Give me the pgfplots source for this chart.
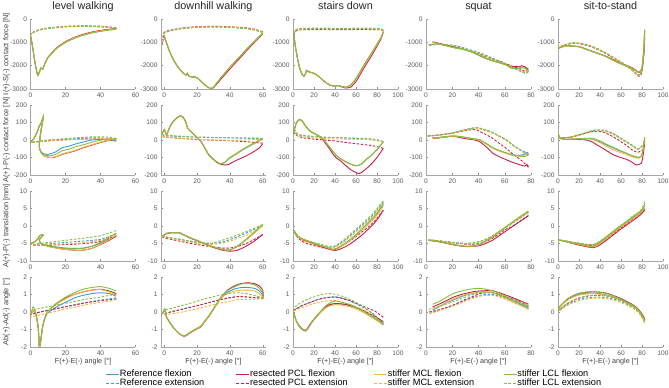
\documentclass[border=0pt]{standalone}
\usepackage{fontspec}
\setmainfont{Liberation Sans}
\usepackage{pgfplots}
\usepackage{pgfplotstable}
\pgfplotsset{compat=1.18}
\definecolor{cB}{HTML}{3A9BDC}
\definecolor{cR}{HTML}{C81E46}
\definecolor{cY}{HTML}{F7B53F}
\definecolor{cG}{HTML}{86BE3E}

% ---------------- row A : I-S contact force ----------------
\pgfplotstableread{
x b r m l
0 -700 -700 -700 -700
1 -1100 -1100 -1100 -1100
2 -1600 -1600 -1600 -1600
3 -2050 -2050 -2050 -2050
4.2 -2420 -2420 -2420 -2420
5.2 -2250 -2250 -2250 -2250
6.0 -2100 -2100 -2100 -2100
7.0 -2150 -2150 -2150 -2150
8 -1950 -1950 -1950 -1950
10 -1650 -1640 -1650 -1660
15 -1250 -1230 -1250 -1260
20 -1000 -970 -990 -1010
25 -820 -790 -810 -830
30 -690 -660 -680 -700
35 -590 -560 -580 -600
40 -520 -490 -510 -530
45 -460 -440 -455 -475
49 -420 -400 -415 -440
}\fAa
\pgfplotstableread{
x b r m l
49 -400 -380 -390 -410
45 -360 -340 -350 -370
40 -330 -310 -320 -340
30 -310 -295 -305 -320
20 -330 -315 -325 -340
10 -400 -385 -395 -410
5 -470 -455 -465 -480
2 -560 -545 -555 -570
0 -660 -650 -655 -670
0 -720 -760 -720 -720
}\eAa
\pgfplotstableread{
x b r m l
0 -700 -700 -700 -700
0.5 -850 -850 -850 -850
3 -1350 -1350 -1350 -1350
6 -1800 -1800 -1800 -1800
9 -2120 -2120 -2120 -2120
12 -2350 -2350 -2350 -2350
13.5 -2400 -2400 -2400 -2400
14 -2330 -2330 -2330 -2330
15 -2450 -2450 -2450 -2450
17 -2480 -2480 -2480 -2480
19 -2490 -2490 -2490 -2490
21 -2580 -2580 -2580 -2580
24 -2780 -2780 -2780 -2780
27 -2940 -2940 -2940 -2940
28.5 -2980 -2980 -2980 -2980
30 -2920 -2950 -2920 -2920
35 -2480 -2540 -2480 -2470
40 -2080 -2140 -2080 -2060
45 -1700 -1760 -1700 -1680
50 -1320 -1370 -1320 -1300
55 -960 -1000 -960 -940
60 -620 -640 -620 -600
}\fAb
\pgfplotstableread{
x b r m l
60 -560 -540 -560 -580
55 -460 -440 -460 -480
50 -400 -380 -400 -420
40 -350 -335 -350 -365
30 -330 -315 -330 -345
20 -345 -330 -345 -360
10 -410 -395 -410 -425
3 -510 -495 -510 -525
0 -580 -570 -580 -600
-1 -900 -1100 -800 -700
}\eAb
\pgfplotstableread{
x b r m l
1 -700 -700 -700 -700
2 -1100 -1100 -1100 -1100
3.5 -1500 -1500 -1500 -1500
5 -1850 -1850 -1850 -1850
7 -2200 -2200 -2200 -2200
9 -2400 -2400 -2400 -2400
10.5 -2450 -2450 -2450 -2450
12 -2330 -2330 -2330 -2330
13 -2200 -2200 -2200 -2200
15 -2260 -2260 -2260 -2260
20 -2330 -2330 -2330 -2330
25 -2480 -2480 -2480 -2480
30 -2680 -2680 -2680 -2680
35 -2830 -2830 -2830 -2830
40 -2880 -2880 -2880 -2880
43 -2850 -2850 -2850 -2850
47 -2900 -2920 -2900 -2900
50 -2920 -2960 -2930 -2920
55 -2830 -2920 -2850 -2830
60 -2550 -2680 -2580 -2550
65 -2180 -2300 -2200 -2170
70 -1800 -1920 -1820 -1790
75 -1450 -1560 -1470 -1440
80 -1080 -1170 -1100 -1070
84 -780 -830 -790 -770
86 -550 -560 -550 -540
}\fAc
\pgfplotstableread{
x b r m l
86 -500 -520 -500 -480
84 -440 -470 -450 -420
80 -420 -460 -430 -400
70 -410 -450 -420 -390
60 -410 -450 -420 -390
50 -420 -455 -430 -400
40 -420 -455 -430 -400
30 -410 -450 -420 -390
20 -410 -450 -420 -390
10 -420 -460 -430 -400
5 -430 -470 -440 -410
2 -500 -540 -510 -480
1 -650 -680 -660 -640
}\eAc
\pgfplotstableread{
x b r m l
5 -1000 -980 -1000 -1010
8 -1030 -1010 -1030 -1040
11 -1080 -1060 -1080 -1090
16 -1150 -1130 -1150 -1160
21 -1220 -1200 -1220 -1230
26 -1270 -1260 -1270 -1280
31 -1340 -1330 -1340 -1350
36 -1430 -1440 -1430 -1440
41 -1560 -1580 -1560 -1570
46 -1680 -1700 -1680 -1690
51 -1790 -1800 -1790 -1810
56 -1860 -1870 -1870 -1880
61 -1950 -1950 -1960 -1980
65 -2080 -2050 -2090 -2110
68 -2100 -2030 -2110 -2120
71 -2100 -2050 -2120 -2130
73 -2060 -2000 -2080 -2090
75 -2050 -2040 -2090 -2100
77 -2150 -2120 -2180 -2200
78 -2200 -2150 -2220 -2240
}\fAd
\pgfplotstableread{
x b r m l
78 -2250 -2180 -2240 -2260
76 -2330 -2250 -2300 -2330
74 -2280 -2200 -2250 -2290
71 -2180 -2120 -2200 -2220
67 -2080 -2050 -2100 -2120
61 -1920 -1920 -1940 -1960
56 -1800 -1820 -1830 -1840
51 -1690 -1720 -1730 -1740
46 -1560 -1620 -1600 -1610
41 -1450 -1520 -1480 -1500
36 -1360 -1420 -1390 -1400
31 -1280 -1330 -1300 -1310
26 -1190 -1240 -1220 -1230
21 -1130 -1170 -1150 -1160
16 -1100 -1120 -1110 -1120
11 -1080 -1090 -1090 -1090
6 -1100 -1090 -1100 -1100
2 -1120 -1110 -1120 -1120
}\eAd
\pgfplotstableread{
x b r m l
0 -1260 -1250 -1260 -1260
4 -1200 -1190 -1200 -1200
8 -1150 -1140 -1150 -1150
14 -1170 -1160 -1170 -1170
20 -1190 -1180 -1190 -1190
27 -1300 -1290 -1300 -1300
33 -1400 -1390 -1400 -1400
40 -1510 -1500 -1510 -1510
46 -1610 -1600 -1610 -1620
52 -1750 -1730 -1750 -1760
59 -1900 -1880 -1900 -1910
65 -2010 -1990 -2010 -2020
71 -2110 -2100 -2120 -2130
74 -2200 -2190 -2210 -2220
76 -2260 -2280 -2270 -2270
78.5 -2250 -2280 -2240 -2230
80 -2100 -2150 -2080 -2050
81 -1800 -1900 -1750 -1700
82 -1300 -1400 -1250 -1200
82.5 -700 -800 -650 -500
}\fAe
\pgfplotstableread{
x b r m l
82.5 -500 -550 -500 -450
82 -1000 -1100 -1000 -950
81 -1700 -1800 -1700 -1650
80 -2150 -2250 -2150 -2100
78.5 -2380 -2440 -2380 -2350
77 -2420 -2450 -2420 -2400
74 -2330 -2350 -2330 -2310
71 -2200 -2210 -2200 -2180
65 -2000 -2010 -2000 -1980
59 -1830 -1840 -1830 -1810
52 -1640 -1650 -1640 -1620
46 -1480 -1490 -1480 -1460
40 -1340 -1350 -1340 -1320
33 -1200 -1210 -1200 -1180
27 -1110 -1120 -1110 -1090
20 -1050 -1060 -1050 -1030
14 -1030 -1040 -1030 -1010
8 -1090 -1100 -1090 -1080
4 -1150 -1160 -1150 -1140
0 -1240 -1250 -1240 -1240
}\eAe

% ---------------- row B : A-P contact force ----------------
\pgfplotstableread{
x b r m l
0 -15 -15 -15 -15
2 10 10 10 10
4 50 50 50 50
5 80 80 80 80
6 95 95 95 95
7.3 130 132 130 135
6.8 100 100 100 100
5.8 40 40 40 40
5 -30 -30 -30 -30
5.5 -60 -60 -60 -60
7 -76 -85 -85 -82
9 -82 -95 -95 -88
11 -80 -100 -100 -90
14 -70 -98 -97 -84
18 -45 -82 -80 -62
22 -35 -72 -70 -52
26 -22 -60 -58 -38
30 -12 -45 -43 -28
34 -2 -32 -30 -16
38 3 -20 -18 -5
42 2 -9 -7 3
46 -2 0 1 5
49 -6 5 6 8
}\fBa
\pgfplotstableread{
x b r m l
49 -6 5 6 8
45 8 8 8 16
40 12 8 8 18
35 12 6 6 18
30 10 5 5 15
25 7 3 3 12
20 4 1 1 8
15 1 -2 -2 4
10 -3 -5 -5 0
5 -8 -9 -9 -6
0 -15 -15 -15 -15
}\eBa
\pgfplotstableread{
x b r m l
-1.5 30 30 30 30
0 60 60 60 60
1.4 30 30 30 30
3.4 76 76 76 76
5.4 105 105 105 105
7.4 124 124 124 124
9.7 138 138 138 138
11.3 132 132 132 132
13 105 105 105 105
14.3 67 67 67 67
16.3 48 48 48 48
19.3 20 20 20 20
22.3 -8 -8 -8 -8
25 -50 -50 -50 -50
27.2 -86 -86 -86 -86
30 -110 -112 -110 -110
32.2 -126 -130 -126 -126
34.2 -137 -138 -137 -137
37 -128 -143 -128 -126
39 -110 -140 -108 -106
44 -80 -116 -78 -76
49 -50 -95 -48 -46
54 -25 -70 -23 -20
58 -5 -45 -3 0
60 5 -20 6 8
}\fBb
\pgfplotstableread{
x b r m l
60 8 -18 5 10
55 9 -14 2 11
50 10 -10 0 12
45 11 -7 -1 13
40 12 -4 -2 13
35 13 -2 -1 14
30 14 -1 0 15
25 15 1 2 16
20 16 3 4 17
15 18 6 7 19
10 20 9 10 22
5 22 13 14 25
1 25 17 18 28
-1 28 18 20 30
}\eBb
\pgfplotstableread{
x b r m l
0.5 40 40 40 40
1.6 67 67 67 67
3 95 95 95 95
4.7 110 110 110 110
6.3 118 118 118 118
8 112 112 112 112
9.4 103 103 103 103
11 88 88 88 88
12.5 76 76 76 76
15 58 58 58 58
17 48 48 48 48
22 32 32 32 32
25 22 20 22 22
28 10 5 10 10
31 -12 -20 -12 -12
34.5 -38 -48 -38 -38
38 -65 -80 -65 -65
40.8 -86 -100 -86 -86
45 -106 -118 -106 -106
50 -124 -145 -124 -124
55 -138 -170 -138 -138
59.6 -147 -185 -147 -147
62.7 -145 -192 -145 -145
66 -133 -182 -133 -133
70 -110 -163 -110 -110
75 -86 -135 -86 -86
80 -55 -100 -55 -55
86 -10 -48 -10 -10
}\fBc
\pgfplotstableread{
x b r m l
86 -10 -48 -10 -8
80 -2 -38 -4 2
75 3 -32 0 6
70 6 -28 2 9
66 8 -25 3 10
60 9 -21 4 11
50 11 -14 5 12
41 13 -6 6 14
34 14 -2 7 15
28 16 1 9 17
22 18 4 11 19
15 22 8 14 22
10 25 12 17 26
6 29 19 22 30
3 38 28 32 42
1.6 57 38 45 60
0.5 40 40 40 40
}\eBc
\pgfplotstableread{
x b r m l
5 13 11 12 14
8 12 10 11 14
11 15 13 14 16
16 20 18 19 20
21 23 21 22 23
26 19 14 18 20
31 13 6 12 14
36 6 2 5 8
41 0 -10 -1 1
46 -22 -40 -24 -20
51 -46 -76 -48 -44
56 -62 -96 -64 -60
61.5 -76 -114 -78 -74
66 -84 -128 -88 -86
71.6 -88 -142 -92 -93
75 -80 -149 -88 -95
77 -70 -140 -80 -90
78 -80 -155 -85 -88
}\fBd
\pgfplotstableread{
x b r m l
78 -80 -155 -85 -88
76 -70 -140 -78 -78
71.6 -55 -110 -58 -57
66 -28 -80 -32 -28
61.5 0 -50 -5 0
56 22 -20 18 22
51 42 8 38 42
46 56 30 52 57
41 67 48 62 68
38.7 70 58 65 71
36 68 60 63 69
31 61 55 57 62
26 52 48 49 53
21 42 40 40 43
16 35 34 34 36
11 29 30 29 29
6 25 26 25 25
1 23 22 23 23
}\eBd
\pgfplotstableread{
x b r m l
0.6 29 29 29 29
1.6 10 10 10 10
4 6 6 6 6
8 4 4 4 4
14 5 4 5 6
20.6 6 2 6 8
27 8 0 7 10
33 5 -12 4 10
37 -5 -28 -8 2
40 -10 -38 -15 -5
46 -28 -60 -35 -24
52 -44 -82 -55 -40
58 -60 -97 -68 -57
65 -76 -110 -82 -75
70 -88 -125 -95 -88
74.6 -98 -143 -103 -97
77 -100 -140 -104 -100
79.4 -92 -133 -96 -92
81 -60 -90 -60 -55
82 -20 -40 -15 -10
82.5 10 0 12 15
}\fBe
\pgfplotstableread{
x b r m l
82.5 10 -5 10 15
82 -15 -40 -15 -10
81 -30 -55 -32 -25
79.4 -40 -62 -42 -38
76 -52 -70 -55 -53
72 -38 -62 -40 -35
68 -22 -45 -24 -18
65 -10 -29 -14 -8
58 15 -2 12 18
52 37 20 33 40
46 50 38 46 53
43 55 45 50 57
39 57 50 52 58
36.5 57 50 52 58
32 52 47 48 53
27 43 40 40 43
20 30 28 28 31
14 19 18 18 20
8 14 13 14 14
1.6 13 13 13 13
0.6 29 29 29 29
}\eBe

% ---------------- row C : A-P translation ----------------
\pgfplotstableread{
x b r m l
0 -5 -5 -5 -5
2 -4.6 -4.6 -4.6 -4.6
4 -3.8 -3.8 -3.8 -3.8
5.2 -2.8 -2.8 -2.8 -2.8
6.5 -2.5 -2.5 -2.5 -2.5
7.3 -2.6 -2.6 -2.6 -2.6
6.5 -3.0 -3.0 -3.0 -3.0
5 -4.0 -4.0 -4.0 -4.0
6 -5.0 -5.0 -5.0 -5.0
10 -5.6 -5.8 -5.8 -5.7
15 -6.0 -6.3 -6.3 -6.1
20 -6.3 -6.7 -6.7 -6.4
25 -6.4 -6.9 -6.9 -6.5
30 -6.3 -6.9 -6.9 -6.4
35 -5.8 -6.4 -6.4 -5.8
40 -4.9 -5.3 -5.2 -4.6
45 -3.8 -4.1 -3.9 -3.2
49 -3.0 -2.8 -2.6 -2.0
}\fCa
\pgfplotstableread{
x b r m l
49 -2.2 -2.6 -2.4 -1.3
45 -3.0 -3.5 -3.2 -2.0
40 -3.8 -4.4 -4.1 -2.8
35 -4.1 -4.8 -4.5 -3.2
30 -4.3 -5.0 -4.8 -3.5
25 -4.5 -5.2 -5.0 -3.8
20 -4.7 -5.3 -5.1 -4.1
15 -4.9 -5.4 -5.2 -4.4
10 -5.1 -5.5 -5.3 -4.7
5 -5.2 -5.5 -5.4 -5.0
2 -5.3 -5.5 -5.4 -5.2
0 -5.0 -5.0 -5.0 -5.0
}\eCa
\pgfplotstableread{
x b r m l
-1.2 -2.9 -3.0 -2.9 -2.9
1.4 -2.1 -2.2 -2.1 -2.1
3.4 -1.9 -2.0 -1.9 -1.9
6 -1.85 -1.95 -1.85 -1.85
9.3 -1.9 -2.0 -1.9 -1.9
12.3 -2.6 -2.7 -2.6 -2.6
16 -3.4 -3.5 -3.4 -3.4
19.3 -4.0 -4.1 -4.0 -4.0
23 -4.7 -4.8 -4.7 -4.7
27.2 -5.5 -5.6 -5.5 -5.5
31 -6.1 -6.3 -6.1 -6.1
35.2 -6.7 -6.9 -6.7 -6.7
38 -6.9 -7.1 -6.9 -6.9
40.5 -6.8 -7.2 -6.8 -6.8
44 -6.0 -7.0 -6.0 -5.9
49 -4.3 -6.0 -4.3 -4.1
54 -2.3 -4.6 -2.4 -2.1
58 -0.6 -3.2 -0.7 -0.4
60 0.3 -2.4 0.2 0.4
}\fCb
\pgfplotstableread{
x b r m l
60 0.3 -2.4 0.0 0.4
55 -0.9 -3.8 -1.4 -0.6
50 -2.0 -5.0 -2.6 -1.6
45 -3.0 -5.8 -3.5 -2.5
40 -3.9 -6.3 -4.3 -3.3
35 -4.6 -6.3 -4.9 -4.1
30 -5.0 -6.0 -5.2 -4.8
27 -5.0 -5.8 -5.3 -4.9
20 -4.7 -5.3 -5.0 -4.6
15 -4.3 -4.9 -4.6 -4.2
10 -3.9 -4.4 -4.2 -3.8
5 -3.5 -3.9 -3.7 -3.4
0 -3.1 -3.4 -3.2 -3.0
-1.2 -2.9 -3.0 -2.9 -2.9
}\eCb
\pgfplotstableread{
x b r m l
1 -1.3 -1.3 -1.3 -1.3
3 -2.6 -2.6 -2.6 -2.6
6 -3.3 -3.4 -3.3 -3.2
9.4 -3.8 -4.0 -3.8 -3.7
14 -4.3 -4.5 -4.3 -4.2
18.8 -4.8 -5.0 -4.8 -4.7
23 -5.3 -5.5 -5.3 -5.2
28 -5.8 -6.0 -5.8 -5.7
33 -6.3 -6.5 -6.3 -6.2
37.6 -6.7 -6.9 -6.7 -6.6
40 -6.8 -7.0 -6.8 -6.7
44 -6.2 -6.7 -6.2 -6.0
50 -5.0 -5.9 -5.0 -4.8
55 -3.9 -5.0 -4.0 -3.7
60 -2.6 -3.9 -2.8 -2.4
66 -0.9 -2.5 -1.1 -0.7
72 0.9 -0.8 0.6 1.1
78 2.7 1.0 2.4 2.9
82 4.2 2.6 3.9 4.5
86 6.2 4.5 5.8 6.5
}\fCc
\pgfplotstableread{
x b r m l
86 6.8 4.5 6.3 7.2
82 5.3 3.0 4.9 5.8
78 3.7 1.5 3.3 4.2
72 1.9 -0.2 1.5 2.3
66 0.3 -1.6 -0.1 0.7
60 -1.3 -3.0 -1.7 -0.9
55 -2.6 -4.1 -3.0 -2.2
50 -3.9 -5.0 -4.2 -3.6
44 -5.2 -6.0 -5.4 -4.9
40 -5.9 -6.6 -6.1 -5.7
37 -6.1 -6.7 -6.3 -5.9
33 -5.9 -6.5 -6.1 -5.8
28 -5.5 -6.2 -5.8 -5.4
23 -5.1 -5.8 -5.4 -5.0
18.8 -4.8 -5.5 -5.1 -4.7
14 -4.4 -5.1 -4.7 -4.3
9.4 -3.9 -4.5 -4.2 -3.8
5 -3.0 -3.5 -3.2 -2.9
2 -1.8 -2.0 -1.9 -1.7
1 -1.3 -1.3 -1.3 -1.3
}\eCc
\pgfplotstableread{
x b r m l
2 -4.0 -4.1 -4.0 -4.0
6 -4.2 -4.3 -4.2 -4.2
11 -4.5 -4.6 -4.5 -4.5
16 -4.9 -5.0 -4.9 -4.9
21 -5.3 -5.4 -5.3 -5.3
26 -5.6 -5.7 -5.6 -5.6
31 -5.8 -5.9 -5.8 -5.8
36 -5.7 -5.8 -5.7 -5.7
41 -5.3 -5.6 -5.3 -5.2
46 -4.3 -4.9 -4.3 -4.1
51 -3.1 -4.0 -3.1 -2.9
56 -1.7 -2.7 -1.7 -1.5
61.5 -0.2 -1.3 -0.2 0.0
66 1.0 -0.1 1.0 1.2
71.6 2.5 1.3 2.5 2.7
78 4.1 2.9 4.1 4.3
}\fCd
\pgfplotstableread{
x b r m l
78 3.8 3.0 3.8 4.0
71.6 2.2 1.4 2.3 2.4
66 0.8 -0.1 0.9 1.0
61.5 -0.3 -0.8 -0.3 -0.2
56 -1.6 -2.2 -1.6 -1.5
51 -2.8 -3.4 -2.8 -2.7
46 -3.8 -4.4 -3.8 -3.7
41 -4.5 -5.0 -4.5 -4.4
36 -4.9 -5.2 -4.9 -4.8
31 -5.0 -5.2 -5.0 -5.0
26 -4.9 -5.0 -4.9 -4.9
21 -4.8 -4.8 -4.8 -4.8
16 -4.5 -4.5 -4.5 -4.5
11 -4.3 -4.3 -4.3 -4.3
6 -4.1 -4.1 -4.1 -4.1
2 -4.0 -4.0 -4.0 -4.0
}\eCd
\pgfplotstableread{
x b r m l
0 -4.0 -4.0 -4.0 -4.0
4 -4.2 -4.2 -4.2 -4.2
8 -4.5 -4.5 -4.5 -4.5
14 -4.9 -5.0 -4.9 -4.8
20.6 -5.3 -5.5 -5.3 -5.2
27 -5.7 -5.9 -5.7 -5.6
33 -6.0 -6.2 -6.0 -5.8
36 -5.7 -6.0 -5.7 -5.4
40 -5.0 -5.4 -5.0 -4.7
46 -3.6 -4.1 -3.6 -3.3
52 -2.1 -2.7 -2.1 -1.8
58 -0.7 -1.3 -0.7 -0.4
65 0.8 0.2 0.8 1.1
71 2.1 1.5 2.1 2.4
77.8 3.5 3.0 3.5 3.8
80.5 4.3 3.8 4.3 4.7
82.5 5.1 4.5 5.2 5.6
}\fCe
\pgfplotstableread{
x b r m l
82.5 6.2 5.0 6.0 7.0
80.5 4.8 4.0 4.8 5.3
77.8 4.0 3.4 4.0 4.2
71 2.6 2.0 2.6 2.8
65 1.2 0.6 1.2 1.3
58 -0.3 -0.9 -0.3 -0.2
52 -1.7 -2.3 -1.7 -1.6
46 -3.1 -3.6 -3.1 -3.0
40 -4.4 -4.8 -4.4 -4.3
36 -5.1 -5.4 -5.1 -5.0
33 -5.4 -5.6 -5.4 -5.3
27 -5.3 -5.4 -5.3 -5.2
20.6 -5.0 -5.1 -5.0 -4.9
14 -4.7 -4.8 -4.7 -4.6
8 -4.3 -4.4 -4.3 -4.3
4 -4.1 -4.1 -4.1 -4.1
0 -4.0 -4.0 -4.0 -4.0
}\eCe

% ---------------- row D : Ab-Ad angle ----------------
\pgfplotstableread{
x b r m l
0 -0.2 -0.2 -0.2 -0.2
1.5 0.1 0.1 0.1 0.3
3 -0.1 -0.1 -0.1 0.0
4.3 -0.8 -0.8 -0.8 -0.8
4.8 -1.5 -1.5 -1.5 -1.5
5 -2.0 -2.0 -2.0 -1.9
5.5 -1.9 -1.9 -1.9 -1.8
6.3 -1.3 -1.3 -1.3 -1.3
7 -0.8 -0.8 -0.8 -0.8
8 -0.45 -0.4 -0.4 -0.4
9.5 -0.1 -0.05 -0.05 0.0
12 0.1 0.25 0.2 0.25
15 0.3 0.5 0.45 0.5
20 0.55 0.8 0.75 0.85
25 0.8 1.0 1.0 1.1
30 0.95 1.15 1.15 1.3
35 1.05 1.25 1.25 1.4
40 1.1 1.3 1.28 1.45
45 1.05 1.2 1.15 1.35
49 0.9 1.05 0.95 1.2
}\fDa
\pgfplotstableread{
x b r m l
49 0.8 0.75 0.7 1.0
45 0.75 0.7 0.62 0.95
40 0.68 0.65 0.55 0.85
35 0.6 0.58 0.47 0.78
30 0.5 0.5 0.38 0.7
25 0.4 0.4 0.27 0.6
20 0.3 0.3 0.17 0.5
15 0.2 0.2 0.05 0.4
10 0.1 0.1 -0.07 0.3
5 0 -0.02 -0.17 0.2
0 -0.15 -0.15 -0.3 0.05
}\eDa
\pgfplotstableread{
x b r m l
-1.2 -0.1 -0.1 -0.1 -0.1
0.4 0.1 0.1 0.1 0.2
1.4 -0.3 -0.3 -0.3 -0.3
5.4 -0.87 -0.87 -0.87 -0.87
9.3 -1.25 -1.25 -1.25 -1.25
12.3 -1.38 -1.4 -1.38 -1.36
15.3 -1.2 -1.22 -1.2 -1.18
19.3 -0.98 -1.0 -0.98 -0.95
22.3 -0.83 -0.85 -0.83 -0.8
25 -0.5 -0.5 -0.5 -0.45
27.2 -0.25 -0.25 -0.25 -0.2
31 0.3 0.32 0.3 0.35
35 0.85 0.9 0.82 0.9
39 1.15 1.28 1.08 1.25
43 1.32 1.5 1.2 1.45
47 1.4 1.63 1.25 1.6
51 1.4 1.67 1.25 1.63
55 1.35 1.62 1.2 1.55
58 1.2 1.48 1.05 1.35
60 0.96 1.25 0.83 1.06
60.5 0.8 0.78 0.75 0.8
}\fDb
\pgfplotstableread{
x b r m l
60.5 0.8 0.78 0.75 0.8
55 0.82 0.82 0.72 0.95
50 0.86 0.86 0.72 1.05
45 0.88 0.88 0.72 1.1
40 0.82 0.82 0.62 1.07
35 0.72 0.72 0.52 0.98
30 0.6 0.6 0.42 0.88
25 0.48 0.48 0.3 0.76
20 0.36 0.36 0.18 0.62
15 0.25 0.25 0.08 0.48
10 0.14 0.14 -0.02 0.35
5 0.03 0.03 -0.1 0.22
0 -0.1 -0.1 -0.15 0.1
-1.2 -0.1 -0.1 -0.15 -0.1
}\eDb
\pgfplotstableread{
x b r m l
0 0.1 0.1 0.1 0.1
1 -0.1 -0.1 -0.1 -0.1
3 -0.48 -0.48 -0.48 -0.5
6 -0.8 -0.8 -0.82 -0.85
9 -0.98 -0.98 -1.0 -1.02
12 -1.06 -1.04 -1.08 -1.1
14 -0.95 -0.92 -0.97 -0.98
15.7 -0.77 -0.74 -0.8 -0.8
19 -0.5 -0.48 -0.53 -0.5
22 -0.29 -0.26 -0.32 -0.27
25 -0.08 -0.06 -0.12 -0.05
28 0.1 0.12 0.06 0.15
31 0.27 0.3 0.22 0.35
34.5 0.38 0.42 0.34 0.5
38 0.45 0.47 0.4 0.6
41 0.47 0.48 0.42 0.62
45 0.46 0.47 0.4 0.58
50 0.42 0.44 0.36 0.5
55 0.34 0.36 0.28 0.4
60 0.24 0.27 0.18 0.27
66 0.08 0.12 0.0 0.08
72 -0.12 -0.06 -0.2 -0.14
78 -0.32 -0.25 -0.42 -0.38
82 -0.47 -0.4 -0.57 -0.55
86 -0.67 -0.55 -0.72 -0.75
}\fDc
\pgfplotstableread{
x b r m l
86 -0.62 -0.3 -0.66 -0.7
82 -0.4 -0.12 -0.5 -0.45
78 -0.17 0.05 -0.3 -0.2
72 0.08 0.2 -0.05 0.08
66 0.28 0.35 0.15 0.35
60 0.47 0.5 0.3 0.55
55 0.62 0.63 0.42 0.7
50 0.73 0.72 0.52 0.82
45 0.82 0.8 0.6 0.94
41 0.86 0.85 0.65 1.0
37 0.86 0.85 0.66 1.05
34 0.84 0.83 0.65 1.06
28 0.78 0.78 0.6 1.0
22 0.68 0.68 0.52 0.9
17 0.56 0.56 0.42 0.8
12 0.45 0.45 0.32 0.68
7 0.32 0.32 0.22 0.52
3 0.18 0.18 0.12 0.35
0.5 0.1 0.1 0.05 0.25
}\eDc
\pgfplotstableread{
x b r m l
5 0.1 0.29 0.15 0.44
10 0.3 0.45 0.33 0.6
15 0.5 0.63 0.53 0.82
21 0.7 0.85 0.75 1.06
26 0.85 0.98 0.9 1.18
31 0.98 1.08 1.02 1.27
36 1.08 1.16 1.1 1.33
41 1.15 1.2 1.15 1.35
46 1.14 1.22 1.13 1.3
51 1.1 1.2 1.1 1.21
56 0.97 1.1 0.95 1.06
61.5 0.8 0.95 0.75 0.87
66 0.65 0.82 0.6 0.72
71.6 0.46 0.65 0.4 0.55
78 0.25 0.45 0.15 0.33
}\fDd
\pgfplotstableread{
x b r m l
78 0.2 0.35 0.18 0.3
71.6 0.42 0.58 0.38 0.5
66 0.6 0.75 0.55 0.67
61.5 0.75 0.85 0.7 0.8
56 0.9 1.0 0.85 0.97
51 1.0 1.1 0.95 1.1
46 1.0 1.1 0.95 1.12
41 0.95 1.05 0.9 1.1
36 0.83 0.9 0.78 1.0
31 0.7 0.75 0.66 0.88
26 0.56 0.58 0.5 0.75
21 0.4 0.4 0.35 0.6
16 0.26 0.27 0.22 0.47
11 0.13 0.15 0.1 0.35
6 0.0 0.05 -0.02 0.23
2 -0.1 0.0 -0.1 0.15
}\eDd
\pgfplotstableread{
x b r m l
0 0.1 0.13 0.1 0.15
2 0.3 0.33 0.3 0.35
4.8 0.48 0.5 0.46 0.52
9 0.7 0.74 0.68 0.75
14 0.86 0.92 0.84 0.92
20 1.0 1.06 0.97 1.07
27 1.07 1.13 1.03 1.14
33 1.08 1.16 1.05 1.17
40 1.05 1.13 1.02 1.13
46 0.98 1.08 0.96 1.06
52 0.87 0.96 0.85 0.94
58.7 0.72 0.8 0.7 0.77
65 0.55 0.62 0.52 0.58
71.4 0.35 0.41 0.32 0.38
75 0.2 0.25 0.17 0.22
77.8 0.02 0.06 -0.02 0.0
80.5 -0.2 -0.16 -0.25 -0.22
82.5 -0.44 -0.4 -0.5 -0.46
}\fDe
\pgfplotstableread{
x b r m l
82.5 -0.55 -0.5 -0.62 -0.55
80.5 -0.3 -0.28 -0.38 -0.3
77.8 -0.05 -0.02 -0.12 -0.05
75 0.12 0.15 0.05 0.12
71.4 0.27 0.32 0.2 0.3
65 0.47 0.55 0.4 0.52
58.7 0.63 0.72 0.56 0.7
52 0.75 0.85 0.68 0.84
46 0.82 0.92 0.75 0.92
40 0.85 0.95 0.79 0.96
33 0.84 0.94 0.78 0.95
27 0.8 0.9 0.74 0.9
20 0.7 0.8 0.64 0.8
14 0.56 0.64 0.52 0.66
9 0.42 0.48 0.38 0.5
4.8 0.26 0.3 0.22 0.32
2 0.12 0.14 0.1 0.16
0 0.05 0.06 0.03 0.08
}\eDe

\pgfplotsset{
  sub/.style={scale only axis, width=105pt, height=70pt, anchor=south west,
    axis x line*=bottom, axis y line*=left,
    axis line style={black!35, line width=0.5pt},
    tick style={black!45, line width=0.4pt}, major tick length=2pt, tick align=inside,
    ticklabel style={font=\fontsize{6.6}{7}\selectfont, text=black!65},
    /pgf/number format/assume math mode=true, /pgf/number format/1000 sep={},
    scaled ticks=false,
    xlabel style={font=\fontsize{7.2}{8}\selectfont, text=black!75,
      at={(axis description cs:0.5,-0.215)}, anchor=center},
    ylabel style={font=\fontsize{7.4}{8}\selectfont, text=black!75,
      at={(axis description cs:-0.228,0.5)}, anchor=center},
    every axis title shift=0pt,
    title style={font=\fontsize{10.8}{12}\selectfont, text=black!85,
      at={(axis description cs:0.5,1.137)}, anchor=base},
  },
  fl/.style={line width=0.9pt, solid, smooth, tension=0.35},
  ex/.style={line width=0.9pt, dash pattern=on 2.5pt off 1.6pt, smooth, tension=0.35},
  cA/.style={xmin=0,xmax=60,xtick={0,20,40,60}},
  cBb/.style={xmin=-2,xmax=62,xtick={0,20,40,60}},
  cC/.style={xmin=0,xmax=100,xtick={0,20,...,100}},
  cD/.style={xmin=0,xmax=80,xtick={0,20,...,80}},
  r1/.style={ymin=-3000,ymax=0,ytick={-3000,-2000,-1000,0}},
  r2/.style={ymin=-200,ymax=200,ytick={-200,-100,0,100,200}},
  r3/.style={ymin=-10,ymax=10,ytick={-10,-5,0,5,10}},
  r4/.style={ymin=-2,ymax=2,ytick={-2,-1,0,1,2}},
}
\newcommand\eight[2]{%
  \addplot[cB,fl,forget plot] table[x=x,y=b]{#1};
  \addplot[cB,ex,forget plot] table[x=x,y=b]{#2};
  \addplot[cR,fl,forget plot] table[x=x,y=r]{#1};
  \addplot[cR,ex,forget plot] table[x=x,y=r]{#2};
  \addplot[cY,fl,forget plot] table[x=x,y=m]{#1};
  \addplot[cY,ex,forget plot] table[x=x,y=m]{#2};
  \addplot[cG,fl,forget plot] table[x=x,y=l]{#1};
  \addplot[cG,ex,forget plot] table[x=x,y=l]{#2};
}
\newcommand\xl{F(+)-E(-) angle [°]}

\begin{document}
\begin{tikzpicture}
\useasboundingbox (0,0) rectangle (669pt,-388pt);
% ---- row 1
\begin{axis}[sub,cA,r1,at={(30.5pt,-89pt)},title={level walking},ylabel={I(+)-S(-) contact force [N]}]
\eight\fAa\eAa
\end{axis}
\begin{axis}[sub,cBb,r1,at={(161pt,-89pt)},title={downhill walking}]
\eight\fAb\eAb
\end{axis}
\begin{axis}[sub,cC,r1,at={(293pt,-89pt)},title={stairs down}]
\eight\fAc\eAc
\end{axis}
\begin{axis}[sub,cD,r1,at={(426pt,-89pt)},title={squat}]
\eight\fAd\eAd
\end{axis}
\begin{axis}[sub,cC,r1,at={(558pt,-89pt)},title={sit-to-stand}]
\eight\fAe\eAe
\end{axis}
% ---- row 2
\begin{axis}[sub,cA,r2,at={(30.5pt,-175pt)},ylabel={A(+)-P(-) contact force [N]}]
\eight\fBa\eBa
\end{axis}
\begin{axis}[sub,cBb,r2,at={(161pt,-175pt)}]
\eight\fBb\eBb
\end{axis}
\begin{axis}[sub,cC,r2,at={(293pt,-175pt)}]
\eight\fBc\eBc
\end{axis}
\begin{axis}[sub,cD,r2,at={(426pt,-175pt)}]
\eight\fBd\eBd
\end{axis}
\begin{axis}[sub,cC,r2,at={(558pt,-175pt)}]
\eight\fBe\eBe
\end{axis}
% ---- row 3
\begin{axis}[sub,cA,r3,at={(30.5pt,-261pt)},ylabel={A(+)-P(-) translation [mm]}]
\eight\fCa\eCa
\end{axis}
\begin{axis}[sub,cBb,r3,at={(161pt,-261pt)}]
\eight\fCb\eCb
\end{axis}
\begin{axis}[sub,cC,r3,at={(293pt,-261pt)}]
\eight\fCc\eCc
\end{axis}
\begin{axis}[sub,cD,r3,at={(426pt,-261pt)}]
\eight\fCd\eCd
\end{axis}
\begin{axis}[sub,cC,r3,at={(558pt,-261pt)}]
\eight\fCe\eCe
\end{axis}
% ---- row 4
\begin{axis}[sub,cA,r4,at={(30.5pt,-347pt)},ylabel={Ab(+)-Ad(-) angle [°]},xlabel={\xl},
  legend columns=4,
  legend style={at={(axis description cs:0.713,-0.318)}, anchor=north west, draw=none, fill=none,
    font=\fontsize{9.2}{10}\selectfont, inner sep=0pt, row sep=0pt,
    nodes={inner sep=0.5pt, text height=6.2pt, text depth=1.8pt}},
  legend cell align=left,
  legend image code/.code={\draw[#1] (0pt,0pt) -- (13pt,0pt);}]
\eight\fDa\eDa
\addlegendimage{draw=cB,line width=0.9pt,solid}\addlegendentry{\makebox[115.3pt][l]{Reference flexion}}
\addlegendimage{draw=cR,line width=0.9pt,solid}\addlegendentry{\makebox[122.9pt][l]{resected PCL flexion}}
\addlegendimage{draw=cY,line width=0.9pt,solid}\addlegendentry{\makebox[114.6pt][l]{stiffer MCL flexion}}
\addlegendimage{draw=cG,line width=0.9pt,solid}\addlegendentry{stiffer LCL flexion}
\addlegendimage{draw=cB,line width=0.9pt,dash pattern=on 3pt off 1.8pt}\addlegendentry{Reference extension}
\addlegendimage{draw=cR,line width=0.9pt,dash pattern=on 3pt off 1.8pt}\addlegendentry{resected PCL extension}
\addlegendimage{draw=cY,line width=0.9pt,dash pattern=on 3pt off 1.8pt}\addlegendentry{stiffer MCL extension}
\addlegendimage{draw=cG,line width=0.9pt,dash pattern=on 3pt off 1.8pt}\addlegendentry{stiffer LCL extension}
\end{axis}
\begin{axis}[sub,cBb,r4,at={(161pt,-347pt)},xlabel={\xl}]
\eight\fDb\eDb
\end{axis}
\begin{axis}[sub,cC,r4,at={(293pt,-347pt)},xlabel={\xl}]
\eight\fDc\eDc
\end{axis}
\begin{axis}[sub,cD,r4,at={(426pt,-347pt)},xlabel={\xl}]
\eight\fDd\eDd
\end{axis}
\begin{axis}[sub,cC,r4,at={(558pt,-347pt)},xlabel={\xl}]
\eight\fDe\eDe
\end{axis}
\end{tikzpicture}
\end{document}
